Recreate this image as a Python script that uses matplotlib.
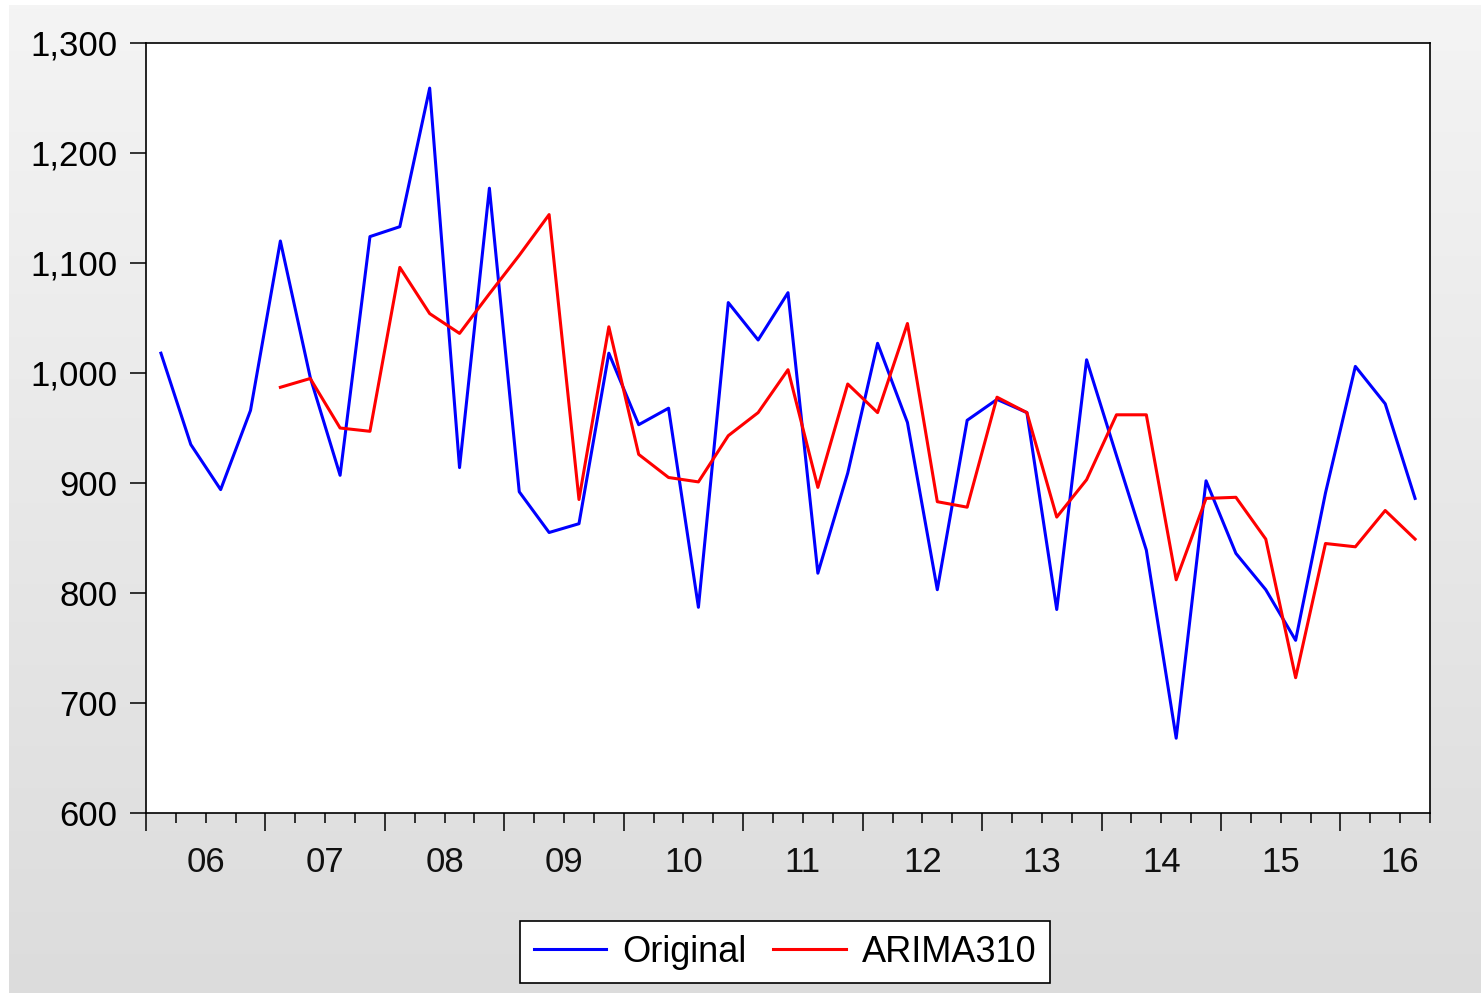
import matplotlib
matplotlib.use('Agg')
import matplotlib.pyplot as plt
from matplotlib.ticker import FixedLocator, FuncFormatter
import numpy as np

plt.rcParams['font.family'] = ['Liberation Sans', 'DejaVu Sans']

# Quarterly series, 2006Q1 .. 2016Q3
years = ['06', '07', '08', '09', '10', '11', '12', '13', '14', '15', '16']
original = [1018, 935, 894, 966,
            1120, 996, 907, 1124,
            1133, 1259, 914, 1168,
            892, 855, 863, 1018,
            953, 968, 787, 1064,
            1030, 1073, 818, 909,
            1027, 955, 803, 957,
            976, 964, 785, 1012,
            925, 839, 668, 902,
            836, 803, 757, 891,
            1006, 972, 886]
# fitted values start in 2007Q1
arima310 = [None, None, None, None,
            987, 995, 950, 947,
            1096, 1054, 1036, 1072,
            1107, 1144, 885, 1042,
            926, 905, 901, 943,
            964, 1003, 896, 990,
            964, 1045, 883, 878,
            978, 964, 869, 903,
            962, 962, 812, 886,
            887, 849, 723, 845,
            842, 875, 849]

x = np.arange(len(original))
fit = np.array([np.nan if v is None else v for v in arima310], dtype=float)

fig = plt.figure(figsize=(14.83, 9.93), dpi=100)
fig.patch.set_facecolor('white')

# grey gradient backdrop
bg = fig.add_axes([9 / 1483, 0, 1 - 11 / 1483, 1 - 5 / 993], zorder=-10)
grad = np.linspace(0.957, 0.863, 256).reshape(-1, 1)
bg.imshow(np.dstack([grad, grad, grad]), aspect='auto', extent=[0, 1, 0, 1])
bg.set_axis_off()

ax = fig.add_axes([146 / 1483, 1 - 813 / 993, (1430 - 146) / 1483, (813 - 43) / 993])
ax.set_facecolor('white')

ax.plot(x, original, color='#0000ff', linewidth=2.2, label='Original')
ax.plot(x, fit, color='#ff0000', linewidth=2.2, label='ARIMA310')

ax.set_xlim(-0.5, len(original) - 0.5)
ax.set_ylim(600, 1300)
ax.set_yticks(np.arange(600, 1301, 100))
ax.yaxis.set_major_formatter(FuncFormatter(lambda v, p: f'{int(v):,}'))

# year boundaries as long ticks, quarter boundaries as short ones
bounds = np.arange(-0.5, len(original) + 0.5, 1.0)
ax.xaxis.set_major_locator(FixedLocator(bounds[::4]))
ax.xaxis.set_minor_locator(FixedLocator(bounds))
ax.set_xticklabels([])
for i, yr in enumerate(years):
    ax.text(i * 4 + 1.5, -0.043, yr, transform=ax.get_xaxis_transform(),
            ha='center', va='top', fontsize=25, color='#111111')

ax.tick_params(axis='y', direction='out', length=11.5, width=1.1, pad=9,
               labelsize=25, colors='black')
ax.tick_params(axis='x', which='major', direction='out', length=13, width=1.1)
ax.tick_params(axis='x', which='minor', direction='out', length=7.5, width=1.1)
for s in ax.spines.values():
    s.set_linewidth(1.2)
    s.set_color('black')

leg = fig.legend(loc='center', bbox_to_anchor=(785 / 1483, 1 - 952 / 993), ncol=2,
                 fontsize=26, frameon=True, fancybox=False, edgecolor='black',
                 framealpha=1, handlelength=2.0, handletextpad=0.45,
                 columnspacing=0.75, borderpad=0.38)
leg.get_frame().set_linewidth(1.2)
for h in leg.get_lines():
    h.set_linewidth(2.2)

fig.savefig('out.png', dpi=100)
